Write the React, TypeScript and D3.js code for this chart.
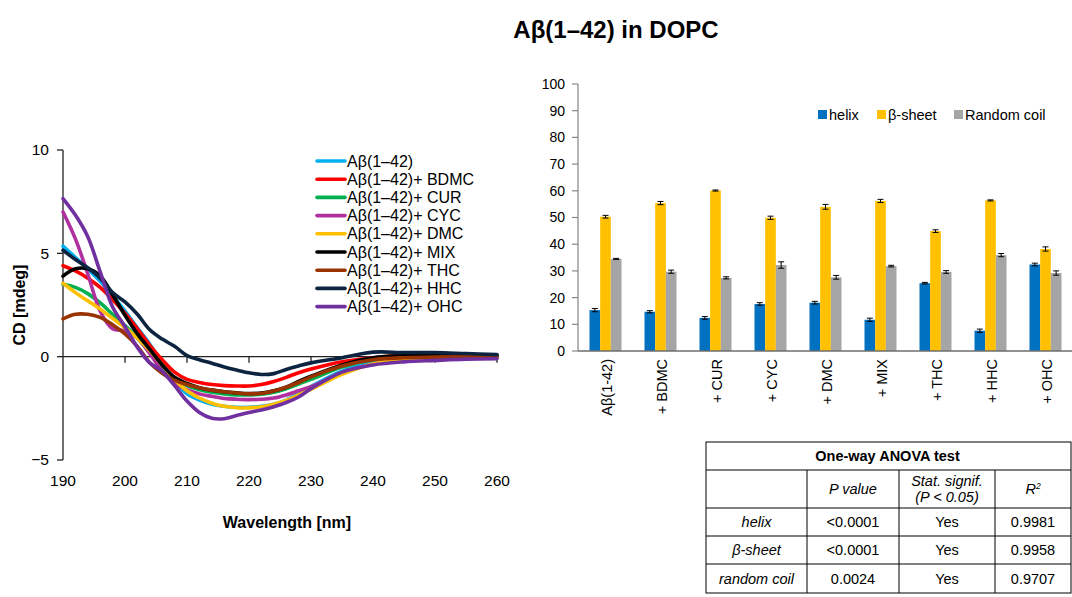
import React from "react";
import * as d3 from "d3";

const wavelengths = [190, 192, 194, 196, 198, 200, 202, 204, 206, 208, 210, 212, 214, 216, 218, 220, 222, 224, 226, 228, 230, 235, 240, 245, 250, 255, 260];

const seriesNames = ["Aβ(1–42)", "Aβ(1–42)+ BDMC", "Aβ(1–42)+ CUR", "Aβ(1–42)+ CYC", "Aβ(1–42)+ DMC", "Aβ(1–42)+ MIX", "Aβ(1–42)+ THC", "Aβ(1–42)+ HHC", "Aβ(1–42)+ OHC"];
const seriesColors = ["#00B0F0", "#FF0000", "#00B050", "#B0309F", "#FFC000", "#000000", "#993300", "#0D2440", "#7030A0"];

const cdAbeta = [5.35, 4.8, 4.25, 3.65, 2.95, 2.2, 1.4, 0.6, -0.3, -1.2, -1.8, -2.1, -2.3, -2.4, -2.45, -2.45, -2.4, -2.3, -2.1, -1.8, -1.45, -0.7, -0.3, -0.15, -0.1, -0.05, -0.05];
const cdBDMC = [4.4, 4.15, 3.8, 3.35, 2.75, 2.1, 1.35, 0.55, -0.15, -0.75, -1.1, -1.25, -1.35, -1.4, -1.42, -1.42, -1.35, -1.2, -1.0, -0.78, -0.6, -0.25, -0.05, 0.05, 0.05, 0.05, 0.05];
const cdCUR = [3.5, 3.35, 3.05, 2.6, 2.05, 1.5, 0.9, 0.2, -0.5, -1.05, -1.4, -1.6, -1.72, -1.8, -1.85, -1.85, -1.82, -1.72, -1.55, -1.32, -1.1, -0.5, -0.15, -0.05, 0, 0, 0];
const cdCYC = [7.0, 5.7, 4.0, 2.2, 1.35, 1.25, 0.9, 0.15, -0.7, -1.3, -1.6, -1.8, -1.92, -2.02, -2.06, -2.08, -2.06, -2.0, -1.85, -1.65, -1.45, -0.8, -0.35, -0.15, -0.1, -0.05, 0];
const cdDMC = [3.55, 3.1, 2.7, 2.3, 1.85, 1.4, 0.9, 0.3, -0.4, -1.1, -1.65, -2.0, -2.25, -2.4, -2.47, -2.48, -2.42, -2.3, -2.12, -1.85, -1.58, -0.85, -0.35, -0.15, -0.05, 0, 0];
const cdMIX = [3.9, 4.25, 4.25, 3.9, 3.0, 2.0, 1.1, 0.35, -0.4, -1.0, -1.3, -1.5, -1.62, -1.7, -1.75, -1.78, -1.76, -1.65, -1.48, -1.2, -0.95, -0.4, -0.05, 0.05, 0.05, 0.05, 0.05];
const cdTHC = [1.83, 2.05, 2.05, 1.9, 1.55, 1.1, 0.5, -0.3, -0.8, -1.15, -1.35, -1.5, -1.62, -1.7, -1.76, -1.8, -1.78, -1.66, -1.48, -1.25, -0.98, -0.45, -0.15, -0.05, -0.02, 0, 0];
const cdHHC = [5.15, 4.7, 4.3, 3.8, 3.1, 2.65, 2.05, 1.3, 0.85, 0.5, 0.05, -0.15, -0.32, -0.5, -0.65, -0.78, -0.86, -0.82, -0.62, -0.45, -0.3, -0.05, 0.22, 0.2, 0.2, 0.15, 0.1];
const cdOHC = [7.65, 6.85, 5.8, 4.1, 2.4, 1.45, 0.45, -0.3, -0.7, -1.4, -2.15, -2.7, -2.98, -3.0, -2.85, -2.7, -2.58, -2.42, -2.22, -1.95, -1.55, -0.75, -0.4, -0.25, -0.18, -0.12, -0.1];
const cdSeries = [cdAbeta, cdBDMC, cdCUR, cdCYC, cdDMC, cdMIX, cdTHC, cdHHC, cdOHC];

const xTicksCD = [190, 200, 210, 220, 230, 240, 250, 260];
const yTicksCD = [10, 5, 0, -5];

const categories = ["Aβ(1-42)", "+ BDMC", "+ CUR", "+ CYC", "+ DMC", "+ MIX", "+ THC", "+ HHC", "+ OHC"];
const barSeries = ["helix", "β-sheet", "Random coil"];
const barColors = ["#0070C0", "#FFC000", "#A5A5A5"];
const helix = [15.3, 14.7, 12.4, 17.6, 18.1, 11.7, 25.4, 7.6, 32.4];
const betaSheet = [50.3, 55.4, 60.1, 49.9, 54.0, 56.2, 44.9, 56.4, 38.2];
const randomCoil = [34.5, 29.7, 27.4, 32.2, 27.6, 31.8, 29.6, 35.9, 29.2];
const helixErr = [0.6, 0.4, 0.5, 0.5, 0.5, 0.6, 0.3, 0.6, 0.5];
const betaErr = [0.5, 0.6, 0.2, 0.6, 0.9, 0.6, 0.5, 0.2, 0.8];
const coilErr = [0.2, 0.6, 0.4, 1.2, 0.7, 0.3, 0.5, 0.6, 0.8];
const barValues = [helix, betaSheet, randomCoil];
const barErrors = [helixErr, betaErr, coilErr];
const yTicksBar = [0, 10, 20, 30, 40, 50, 60, 70, 80, 90, 100];

const tableHeader = ["", "P value", "Stat. signif.|(P < 0.05)", "R2"];
const tableRowLabels = ["helix", "β-sheet", "random coil"];
const tablePValues = ["<0.0001", "<0.0001", "0.0024"];
const tableSignif = ["Yes", "Yes", "Yes"];
const tableR2 = ["0.9981", "0.9958", "0.9707"];

const FONT = "'Liberation Sans', Arial, sans-serif";

export default function App() {
  // CD chart scales
  const x = d3.scaleLinear().domain([190, 260]).range([63, 497]);
  const y = d3.scaleLinear().domain([-5, 10]).range([460, 150]);
  const line = d3
    .line<number>()
    .x((_, i) => x(wavelengths[i]))
    .y((d) => y(d))
    .curve(d3.curveCatmullRom.alpha(0.5));

  // Bar chart scales
  const xb = d3.scaleBand().domain(categories).range([578, 1073]).padding(0);
  const xs = d3.scaleBand().domain(barSeries).range([11.5, 43.5]).padding(0);
  const yb = d3.scaleLinear().domain([0, 100]).range([351, 84]);

  // Table geometry
  const colX = [706, 807, 899, 995, 1071];
  const rowY = [442, 470, 508, 536, 564, 593];

  return (
    <svg width={1072} height={597} style={{ position: "absolute", left: 0, top: 0, background: "#fff" }} fontFamily={FONT}>
      <rect x={0} y={0} width={1072} height={597} fill="#fff" />
      {/* Title */}
      <text x={616} y={38} textAnchor="middle" fontSize={24} fontWeight="bold" fill="#000">
        Aβ(1–42) in DOPC
      </text>

      {/* ===== CD chart ===== */}
      <g>
        <line x1={x(190)} x2={x(190)} y1={y(10)} y2={y(-5)} stroke="#222" strokeWidth={1.3} />
        {yTicksCD.map((t) => (
          <g key={t}>
            <line x1={x(190) - 6} x2={x(190)} y1={y(t)} y2={y(t)} stroke="#222" strokeWidth={1.3} />
            <text x={x(190) - 14} y={y(t)} dy="0.35em" textAnchor="end" fontSize={15.5} fill="#000">
              {t < 0 ? `−${Math.abs(t)}` : t}
            </text>
          </g>
        ))}
        <line x1={x(190)} x2={x(260)} y1={y(0)} y2={y(0)} stroke="#222" strokeWidth={1.3} />
        {xTicksCD.map((t) => (
          <g key={t}>
            {t > 190 && <line x1={x(t)} x2={x(t)} y1={y(0)} y2={y(0) + 6} stroke="#222" strokeWidth={1.3} />}
            <text x={x(t)} y={481} dy="0.35em" textAnchor="middle" fontSize={15.5} fill="#000">
              {t}
            </text>
          </g>
        ))}
        <text x={287} y={522} dy="0.35em" textAnchor="middle" fontSize={16} fontWeight="bold" fill="#000">
          Wavelength [nm]
        </text>
        <text transform="translate(19,305) rotate(-90)" dy="0.35em" textAnchor="middle" fontSize={16} fontWeight="bold" fill="#000">
          CD [mdeg]
        </text>
        {cdSeries.map((s, i) => (
          <path key={i} d={line(s) || ""} fill="none" stroke={seriesColors[i]} strokeWidth={3.6} strokeLinejoin="round" strokeLinecap="round" />
        ))}
        {seriesNames.map((n, i) => {
          const ly = 161 + i * 18.2;
          return (
            <g key={n}>
              <line x1={317} x2={345} y1={ly} y2={ly} stroke={seriesColors[i]} strokeWidth={3.6} strokeLinecap="round" />
              <text x={347} y={ly} dy="0.35em" fontSize={16} fill="#000">
                {n}
              </text>
            </g>
          );
        })}
      </g>

      {/* ===== Bar chart ===== */}
      <g>
        <line x1={578} x2={578} y1={yb(100)} y2={yb(0)} stroke="#868686" strokeWidth={1.2} />
        {yTicksBar.map((t) => (
          <g key={t}>
            <line x1={572} x2={578} y1={yb(t)} y2={yb(t)} stroke="#868686" strokeWidth={1.2} />
            <text x={565} y={yb(t)} dy="0.35em" textAnchor="end" fontSize={14} fill="#000">
              {t}
            </text>
          </g>
        ))}
        {categories.map((c, ci) => (
          <g key={c}>
            {barSeries.map((s, si) => {
              const bx = (xb(c) || 0) + (xs(s) || 0);
              const bw = xs.bandwidth();
              const v = barValues[si][ci];
              const e = barErrors[si][ci];
              const cx = bx + bw / 2;
              return (
                <g key={s}>
                  <rect x={bx} y={yb(v)} width={bw} height={yb(0) - yb(v)} fill={barColors[si]} />
                  <line x1={cx} x2={cx} y1={yb(v + e)} y2={yb(v - e)} stroke="#000" strokeWidth={1} />
                  <line x1={cx - 3} x2={cx + 3} y1={yb(v + e)} y2={yb(v + e)} stroke="#000" strokeWidth={1} />
                  <line x1={cx - 3} x2={cx + 3} y1={yb(v - e)} y2={yb(v - e)} stroke="#000" strokeWidth={1} />
                </g>
              );
            })}
            <text
              transform={`translate(${(xb(c) || 0) + xb.bandwidth() / 2 + 1},${yb(0) + 8}) rotate(-90)`}
              dy="0.35em"
              textAnchor="end"
              fontSize={14.5}
              fill="#000"
            >
              {c}
            </text>
          </g>
        ))}
        <line x1={578} x2={1073} y1={yb(0)} y2={yb(0)} stroke="#6E6E6E" strokeWidth={1.4} />
        {[
          { x: 818, tx: 829 },
          { x: 877, tx: 888 },
          { x: 954, tx: 965 },
        ].map((p, i) => (
          <g key={i}>
            <rect x={p.x} y={110} width={9} height={9} fill={barColors[i]} />
            <text x={p.tx} y={115} dy="0.35em" fontSize={14.5} fill="#000">
              {barSeries[i]}
            </text>
          </g>
        ))}
      </g>

      {/* ===== Table ===== */}
      <g fontSize={14.5} fill="#000">
        <rect x={colX[0]} y={rowY[0]} width={colX[4] - colX[0]} height={rowY[5] - rowY[0]} fill="none" stroke="#000" strokeWidth={1} />
        {rowY.slice(1, 5).map((ry) => (
          <line key={ry} x1={colX[0]} x2={colX[4]} y1={ry} y2={ry} stroke="#000" strokeWidth={1} />
        ))}
        {colX.slice(1, 4).map((cx) => (
          <line key={cx} x1={cx} x2={cx} y1={rowY[1]} y2={rowY[5]} stroke="#000" strokeWidth={1} />
        ))}
        <text x={(colX[0] + colX[4]) / 2 - 1} y={(rowY[0] + rowY[1]) / 2} dy="0.35em" textAnchor="middle" fontWeight="bold">
          One-way ANOVA test
        </text>
        <text x={(colX[1] + colX[2]) / 2} y={(rowY[1] + rowY[2]) / 2} dy="0.35em" textAnchor="middle" fontStyle="italic">
          {tableHeader[1]}
        </text>
        {tableHeader[2].split("|").map((t, i) => (
          <text key={i} x={(colX[2] + colX[3]) / 2} y={(rowY[1] + rowY[2]) / 2 - 8 + i * 16} dy="0.35em" textAnchor="middle" fontStyle="italic">
            {t}
          </text>
        ))}
        <text x={(colX[3] + colX[4]) / 2} y={(rowY[1] + rowY[2]) / 2} dy="0.35em" textAnchor="middle" fontStyle="italic">
          R<tspan fontSize={8.5} dy="-5">2</tspan>
        </text>
        {tableRowLabels.map((r, i) => {
          const cy = (rowY[i + 2] + rowY[i + 3]) / 2;
          return (
            <g key={r}>
              <text x={(colX[0] + colX[1]) / 2} y={cy} dy="0.35em" textAnchor="middle" fontStyle="italic">
                {r}
              </text>
              <text x={(colX[1] + colX[2]) / 2} y={cy} dy="0.35em" textAnchor="middle">
                {tablePValues[i]}
              </text>
              <text x={(colX[2] + colX[3]) / 2} y={cy} dy="0.35em" textAnchor="middle">
                {tableSignif[i]}
              </text>
              <text x={(colX[3] + colX[4]) / 2} y={cy} dy="0.35em" textAnchor="middle">
                {tableR2[i]}
              </text>
            </g>
          );
        })}
      </g>
    </svg>
  );
}
